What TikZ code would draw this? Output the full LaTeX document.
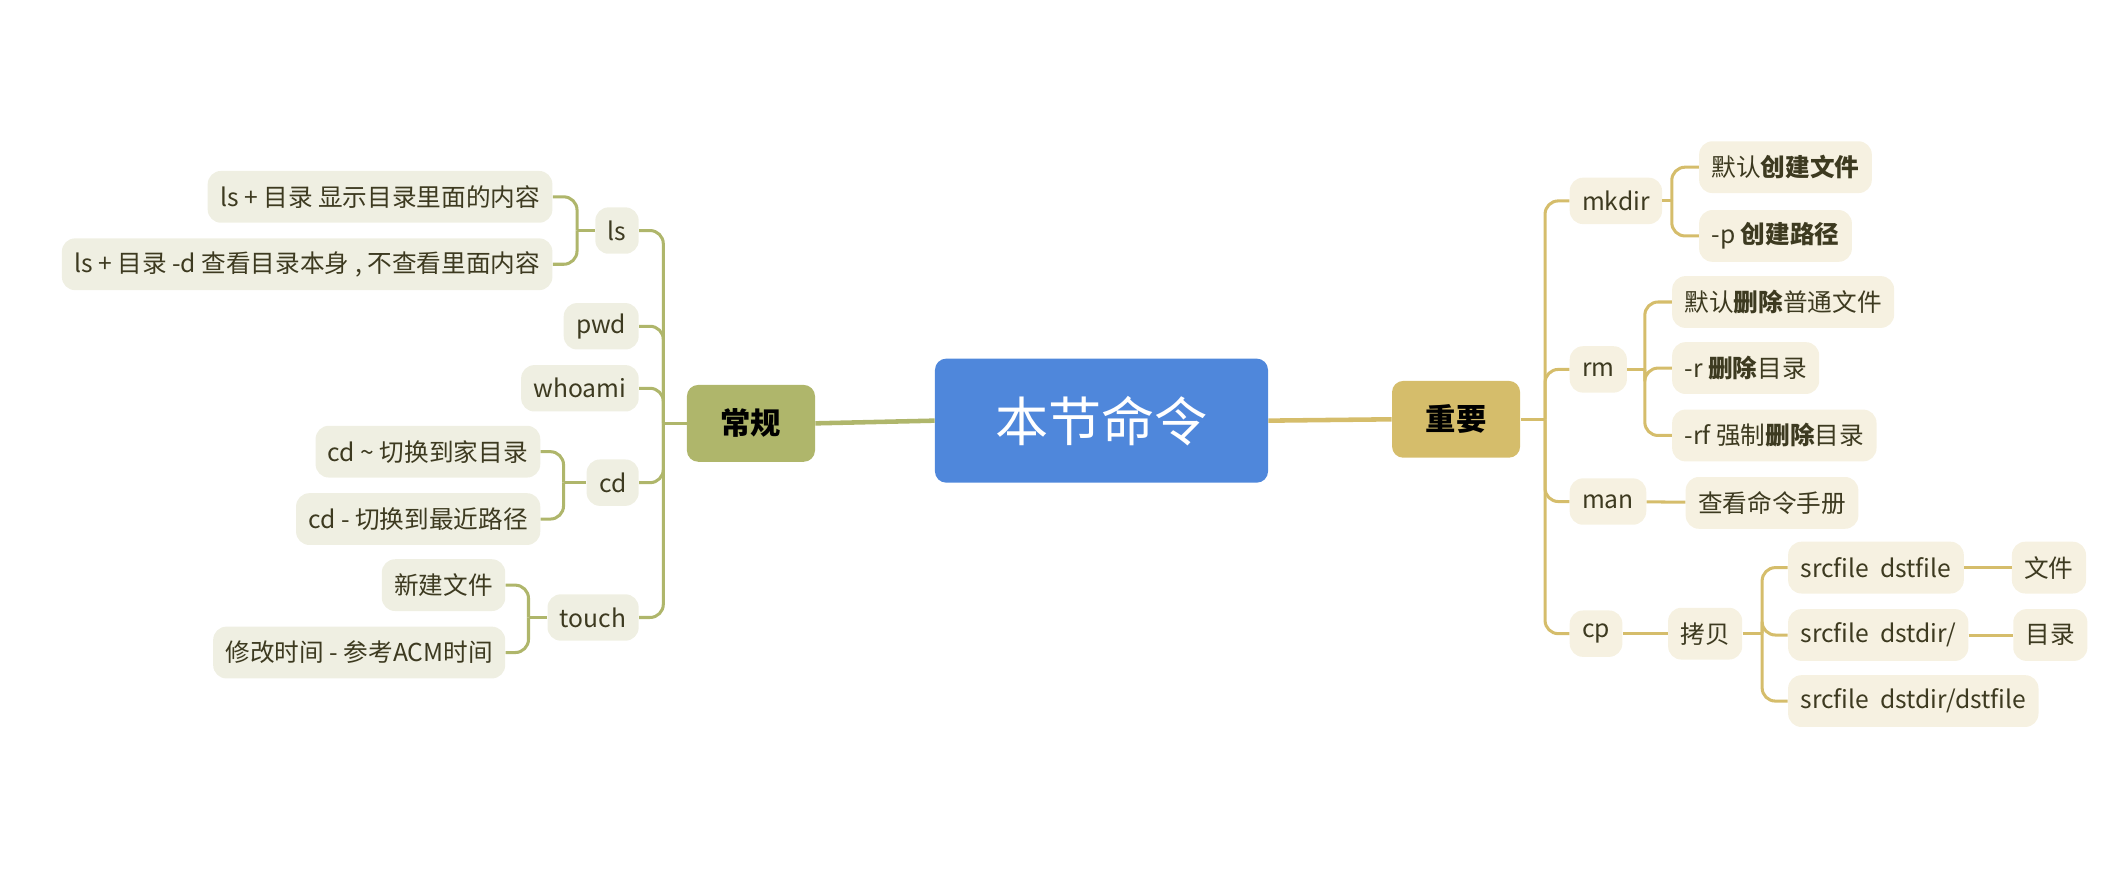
\documentclass[tikz,border=0pt]{standalone}
\usepackage{fontspec}
\setmainfont{Noto Sans CJK SC}
\usepackage{xcolor}
\usetikzlibrary{positioning}
\definecolor{rootblue}{HTML}{4F87DB}
\definecolor{leftline}{HTML}{AFB66B}
\definecolor{leftfill}{HTML}{EFEFE2}
\definecolor{rightline}{HTML}{D5BD6B}
\definecolor{rightfill}{HTML}{F6F1E1}
\definecolor{leaftext}{HTML}{3D3A20}
\tikzset{
    root/.style={
        rectangle, rounded corners=6pt, fill=rootblue, text=white,
        minimum width=6.175cm, minimum height=2.3cm,
        font=\fontsize{28}{32}\selectfont
    },
    branch/.style={
        rectangle, rounded corners=6pt, text=black,
        minimum width=2.375cm, minimum height=1.425cm,
        font=\fontsize{16}{19}\selectfont\bfseries
    },
    lsub/.style={
        rectangle, rounded corners=7pt, fill=leftfill, text=leaftext,
        inner xsep=0.23cm, minimum height=0.86cm,
        font=\fontsize{13}{15}\selectfont
    },
    rsub/.style={lsub, fill=rightfill},
    lleaf/.style={lsub, minimum height=0.96cm},
    rleaf/.style={rsub, minimum height=0.96cm},
    mainleft/.style={draw=leftline, line width=2.4pt},
    mainright/.style={draw=rightline, line width=2.4pt},
    ledge/.style={draw=leftline, line width=1.6pt, rounded corners=7pt},
    redge/.style={draw=rightline, line width=1.6pt, rounded corners=7pt}
}

\begin{document}
\begin{tikzpicture}[x=0.025cm, y=-0.025cm]
\useasboundingbox (0,0) rectangle (1568,646);

%% centre and the two main branches
\node[root] (root) at (817,312) {本节命令};
\node[branch, fill=leftline]  (cg) at (557,314) {常规};
\node[branch, fill=rightline] (zy) at (1080,311) {重要};

%% left side – commands, right aligned at x=474
\node[lsub, anchor=east] (ls)     at (474,171) {ls};
\node[lsub, anchor=east] (pwd)    at (474,242) {pwd};
\node[lsub, anchor=east] (whoami) at (474,288) {whoami};
\node[lsub, anchor=east] (cd)     at (474,358) {cd};
\node[lsub, anchor=east] (touch)  at (474,458) {touch};

\node[lleaf, anchor=east] (lsa) at (410,146) {ls + 目录 显示目录里面的内容};
\node[lleaf, anchor=east] (lsb) at (410,196) {ls + 目录 -d 查看目录本身 , 不查看里面内容};
\node[lleaf, anchor=east] (cda) at (401,335) {cd \textasciitilde{} 切换到家目录};
\node[lleaf, anchor=east] (cdb) at (401,385) {cd - 切换到最近路径};
\node[lleaf, anchor=east] (tca) at (375,434) {新建文件};
\node[lleaf, anchor=east] (tcb) at (375,484) {修改时间 - 参考ACM时间};

%% right side – commands, left aligned at x=1164
\node[rsub, anchor=west] (mkdir) at (1164,149) {mkdir};
\node[rsub, anchor=west] (rm)    at (1164,274) {rm};
\node[rsub, anchor=west] (man)   at (1164,372) {man};
\node[rsub, anchor=west] (cp)    at (1164,470) {cp};

\node[rleaf, anchor=west] (mka) at (1260,124) {默认{\bfseries 创建文件}};
\node[rleaf, anchor=west] (mkb) at (1260,175) {-p {\bfseries 创建路径}};
\node[rleaf, anchor=west] (rma) at (1240,224) {默认{\bfseries 删除}普通文件};
\node[rleaf, anchor=west] (rmb) at (1240,273) {-r {\bfseries 删除}目录};
\node[rleaf, anchor=west] (rmc) at (1240,323) {-rf 强制{\bfseries 删除}目录};
\node[rleaf, anchor=west] (mna) at (1250,373) {查看命令手册};
\node[rleaf, anchor=west] (kb)  at (1237,470) {拷贝};
\node[rleaf, anchor=west] (kba) at (1326,421) {srcfile~~dstfile};
\node[rleaf, anchor=west] (kbb) at (1326,471) {srcfile~~dstdir/};
\node[rleaf, anchor=west] (kbc) at (1326,520) {srcfile~~dstdir/dstfile};
\node[rleaf, anchor=west] (wj)  at (1492,421) {文件};
\node[rleaf, anchor=west] (ml)  at (1493,471) {目录};

%% junctions of the brackets
\coordinate (cgj) at (492,314);
\coordinate (lsj) at (428,171);
\coordinate (cdj) at (418,358);
\coordinate (tcj) at (392,458);
\coordinate (zyj) at (1146,311);
\coordinate (mkj) at (1240,149);
\coordinate (rmj) at (1220,274);
\coordinate (kbj) at (1307,470);

%% main connectors
\draw[mainleft]  (root.west) -- (cg.east);
\draw[mainright] (root.east) -- (zy.west);

%% left connectors
\draw[ledge] (cg.west) -- (cgj);
\foreach \n in {ls,pwd,whoami,cd,touch}
    \draw[ledge] (cgj) |- (\n.east);
\draw[ledge] (ls.west) -- (lsj);
\foreach \n in {lsa,lsb}
    \draw[ledge] (lsj) |- (\n.east);
\draw[ledge] (cd.west) -- (cdj);
\foreach \n in {cda,cdb}
    \draw[ledge] (cdj) |- (\n.east);
\draw[ledge] (touch.west) -- (tcj);
\foreach \n in {tca,tcb}
    \draw[ledge] (tcj) |- (\n.east);

%% right connectors
\draw[redge] (zy.east) -- (zyj);
\foreach \n in {mkdir,rm,man,cp}
    \draw[redge] (zyj) |- (\n.west);
\draw[redge] (mkdir.east) -- (mkj);
\foreach \n in {mka,mkb}
    \draw[redge] (mkj) |- (\n.west);
\draw[redge] (rm.east) -- (rmj);
\foreach \n in {rma,rmb,rmc}
    \draw[redge] (rmj) |- (\n.west);
\draw[redge] (man) -- (mna);
\draw[redge] (cp) -- (kb);
\draw[redge] (kb.east) -- (kbj);
\foreach \n in {kba,kbb,kbc}
    \draw[redge] (kbj) |- (\n.west);
\draw[redge] (kba) -- (wj);
\draw[redge] (kbb) -- (ml);

\end{tikzpicture}
\end{document}
